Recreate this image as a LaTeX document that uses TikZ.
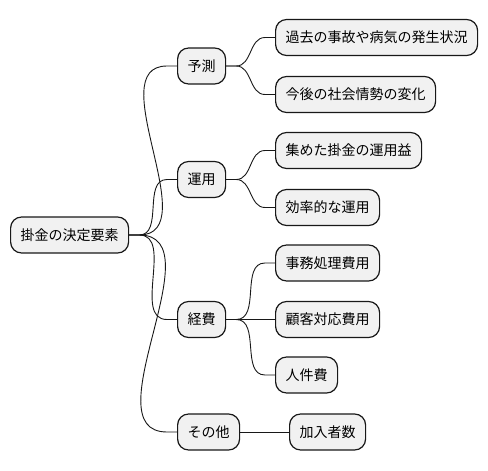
\documentclass[tikz,border=0pt]{standalone}
\usepackage{fontspec}
\setmainfont{Noto Sans CJK JP}
\usetikzlibrary{calc}
\definecolor{boxfill}{HTML}{F1F1F1}
\definecolor{boxline}{HTML}{181818}
\tikzset{
  mmnode/.style={draw=boxline, fill=boxfill, line width=1.2pt, rounded corners=11pt,
    minimum height=36pt, inner xsep=10pt, inner ysep=0pt, anchor=west,
    font=\fontsize{14pt}{16pt}\selectfont, text=black},
  mmlink/.style={draw=boxline, line width=0.9pt}
}
\newcommand{\mmconnect}[2]{\draw[mmlink] (#1.east) -- ++(10,0) to[out=0,in=180] ($(#2.west)+(-10pt,0)$) -- (#2.west);}
\begin{document}
\begin{tikzpicture}[x=1pt,y=-1pt]
\useasboundingbox (0,0) rectangle (488,471);
\node[mmnode] (root) at (10,235) {掛金の決定要素};
\node[mmnode] (yosoku) at (177,66) {予測};
\node[mmnode] (unyo) at (177,179.5) {運用};
\node[mmnode] (keihi) at (177,319.5) {経費};
\node[mmnode] (sonota) at (177,432) {その他};
\node[mmnode] (y1) at (275,37.5) {過去の事故や病気の発生状況};
\node[mmnode] (y2) at (275,94.5) {今後の社会情勢の変化};
\node[mmnode] (u1) at (275,150.5) {集めた掛金の運用益};
\node[mmnode] (u2) at (275,207.5) {効率的な運用};
\node[mmnode] (k1) at (275,263) {事務処理費用};
\node[mmnode] (k2) at (275,319.5) {顧客対応費用};
\node[mmnode] (k3) at (275,375) {人件費};
\node[mmnode] (s1) at (289,432) {加入者数};
\mmconnect{root}{yosoku}
\mmconnect{root}{unyo}
\mmconnect{root}{keihi}
\mmconnect{root}{sonota}
\mmconnect{yosoku}{y1}
\mmconnect{yosoku}{y2}
\mmconnect{unyo}{u1}
\mmconnect{unyo}{u2}
\mmconnect{keihi}{k1}
\mmconnect{keihi}{k2}
\mmconnect{keihi}{k3}
\draw[mmlink] (sonota.east) -- (s1.west);
\end{tikzpicture}
\end{document}
